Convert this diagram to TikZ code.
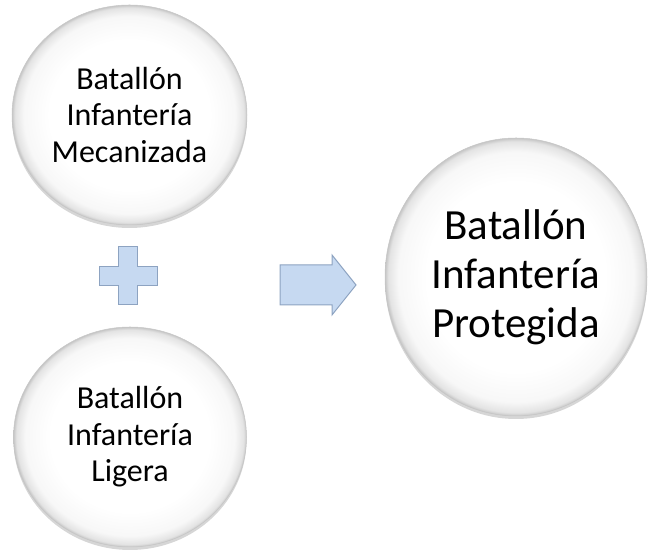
\documentclass[tikz,border=0pt]{standalone}
\usepackage{fontspec}
\setmainfont{Carlito}
\usetikzlibrary{shapes.geometric,shadows}

\definecolor{shapefill}{HTML}{C6D9F1}
\definecolor{shapeline}{HTML}{8DA3C1}

\pgfdeclareradialshading{disco}{\pgfpointorigin}{%
  color(0bp)=(white); color(17bp)=(white); color(22.5bp)=(gray!6);
  color(24.4bp)=(gray!22); color(25bp)=(gray!45); color(50bp)=(gray!45)}

\tikzset{
  boton/.style={ellipse, inner sep=0pt, shade, shading=disco, draw=gray!45,
    line width=0.5pt, align=center,
    drop shadow={shadow xshift=0pt, shadow yshift=-3pt, fill=gray!80, opacity=.4}},
  simbolo/.style={fill=shapefill, draw=shapeline, line width=1pt, line join=miter}
}

\begin{document}
\begin{tikzpicture}[x=1pt, y=1pt]
    \useasboundingbox (0,0) rectangle (654,553);

    % Batallones que se unen
    \node[boton, minimum width=235pt, minimum height=220pt,
          font=\fontsize{32}{36.5}\selectfont]
        (mecanizada) at (129.5,438) {Batallón\\Infantería\\Mecanizada};
    \node[boton, minimum width=233pt, minimum height=220pt,
          font=\fontsize{32}{36.5}\selectfont]
        (ligera) at (130,116) {Batallón\\Infantería\\Ligera};

    % Signo mas
    \coordinate (mas) at (128,277);
    \draw[simbolo] (mas) ++(-9.5,29) -- ++(19,0) -- ++(0,-19.5) -- ++(19.5,0)
        -- ++(0,-19) -- ++(-19.5,0) -- ++(0,-19.5) -- ++(-19,0) -- ++(0,19.5)
        -- ++(-19.5,0) -- ++(0,19) -- ++(19.5,0) -- cycle;

    % Flecha
    \coordinate (flecha) at (280,268);
    \draw[simbolo] (flecha) ++(0,-20) -- ++(52,0) -- ++(0,-10) -- ++(24,30)
        -- ++(-24,30) -- ++(0,-10) -- ++(-52,0) -- cycle;

    % Resultado
    \node[boton, minimum width=262pt, minimum height=278pt,
          font=\fontsize{43}{49}\selectfont]
        (protegida) at (516,276) {Batallón\\Infantería\\Protegida};
\end{tikzpicture}
\end{document}
